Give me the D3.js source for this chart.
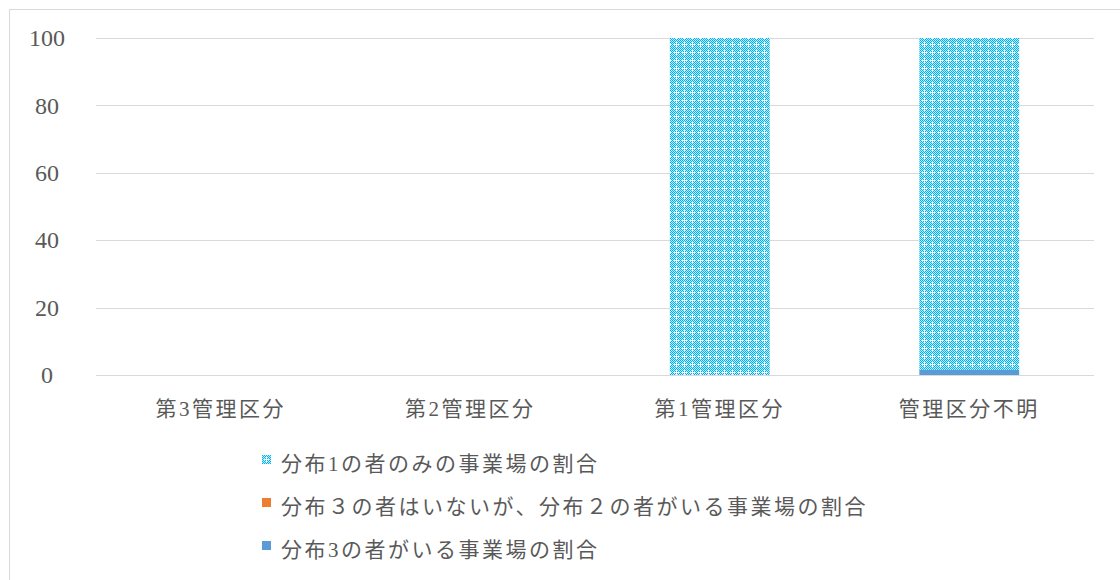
<!DOCTYPE html>
<html><head><meta charset="utf-8">
<script src="https://cdn.jsdelivr.net/npm/d3@7/dist/d3.min.js"></script>
<style>
body{margin:0;background:#fff;}
svg text{font-family:"Liberation Serif","DejaVu Serif","Noto Sans CJK JP",serif;fill:#595959;}
</style></head>
<body><svg id="c" width="1120" height="580"></svg>
<script>
const categories = ["第3管理区分","第2管理区分","第1管理区分","管理区分不明"];
const seriesNames = ["分布1の者のみの事業場の割合","分布３の者はいないが、分布２の者がいる事業場の割合","分布3の者がいる事業場の割合"];
const series3 = [0, 0, 0, 1.5];   // 分布3の者がいる (bottom)
const series2 = [0, 0, 0, 0];     // 分布3なし・分布2あり
const series1 = [0, 0, 100, 98.5]; // 分布1のみ (top)
const yTicks = [0, 20, 40, 60, 80, 100];

const svg = d3.select("#c");
const defs = svg.append("defs");
const pat = defs.append("pattern").attr("id","chk").attr("patternUnits","userSpaceOnUse")
  .attr("width",8).attr("height",8);
pat.append("rect").attr("width",8).attr("height",8).attr("fill","#c4ecfb");
for(let i=0;i<8;i++)for(let j=0;j<8;j++){ if((i+j)%2===0) pat.append("rect").attr("x",i).attr("y",j).attr("width",1).attr("height",1).attr("fill","#00b0f0"); }
pat.append("rect").attr("x",2).attr("y",4).attr("width",5).attr("height",1).attr("fill","#ffffff");
pat.append("rect").attr("x",4).attr("y",2).attr("width",1).attr("height",5).attr("fill","#ffffff");

// chart border
svg.append("rect").attr("x",9.5).attr("y",9.5).attr("width",1120).attr("height",580)
  .attr("fill","none").attr("stroke","#d9d9d9").attr("stroke-width",1);

const x = d3.scaleBand().domain(categories).range([96,1094]).paddingInner(0.6).paddingOuter(0.3);
const y = d3.scaleLinear().domain([0,100]).range([375,38]);

// gridlines
svg.append("g").selectAll("line").data(yTicks).join("line")
  .attr("x1",96).attr("x2",1094).attr("y1",d=>Math.round(y(d))+0.5).attr("y2",d=>Math.round(y(d))+0.5)
  .attr("stroke","#d9d9d9").attr("stroke-width",1);

// y axis
const yAxis = d3.axisLeft(y).tickValues(yTicks).tickSize(0).tickPadding(0);
const gy = svg.append("g").attr("transform","translate(47,0)").call(yAxis);
gy.select(".domain").remove();
gy.selectAll("text").style("font-size","24px").attr("fill","#595959").attr("text-anchor","middle").attr("dx","0");

// stacked bars
const stackData = categories.map((c,i)=>({cat:c, s3:series3[i], s2:series2[i], s1:series1[i]}));
const stack = d3.stack().keys(["s3","s2","s1"])(stackData);
const fills = {s3:"#5b9bd5", s2:"#ed7d31", s1:"url(#chk)"};
svg.append("g").selectAll("g").data(stack).join("g").attr("fill",d=>fills[d.key])
  .selectAll("rect").data(d=>d).join("rect")
  .attr("x",d=>x(d.data.cat)).attr("width",x.bandwidth())
  .attr("y",d=>y(d[1])).attr("height",d=>y(d[0])-y(d[1]));

// baseline axis line
svg.append("line").attr("x1",96).attr("x2",1094).attr("y1",375.5).attr("y2",375.5).attr("stroke","#d9d9d9");

// x axis labels
const xAxis = d3.axisBottom(x).tickSize(0).tickPadding(0);
const gx = svg.append("g").attr("transform","translate(0,416)").call(xAxis);
gx.select(".domain").remove();
gx.selectAll("text").style("font-size","21px").style("letter-spacing","2.5px").attr("fill","#595959").attr("dy","0");

// legend
const legColors = ["url(#chk)","#ed7d31","#5b9bd5"];
const legY = [463, 506, 549];
const lg = svg.append("g").selectAll("g").data(seriesNames).join("g")
  .attr("transform",(d,i)=>`translate(262,${legY[i]})`);
lg.append("rect").attr("x",0).attr("y",-8).attr("width",9).attr("height",9).attr("fill",(d,i)=>legColors[i]);
lg.append("text").attr("x",19).attr("y",8).style("font-size","21px").style("letter-spacing","2.5px").text(d=>d);
</script></body></html>
